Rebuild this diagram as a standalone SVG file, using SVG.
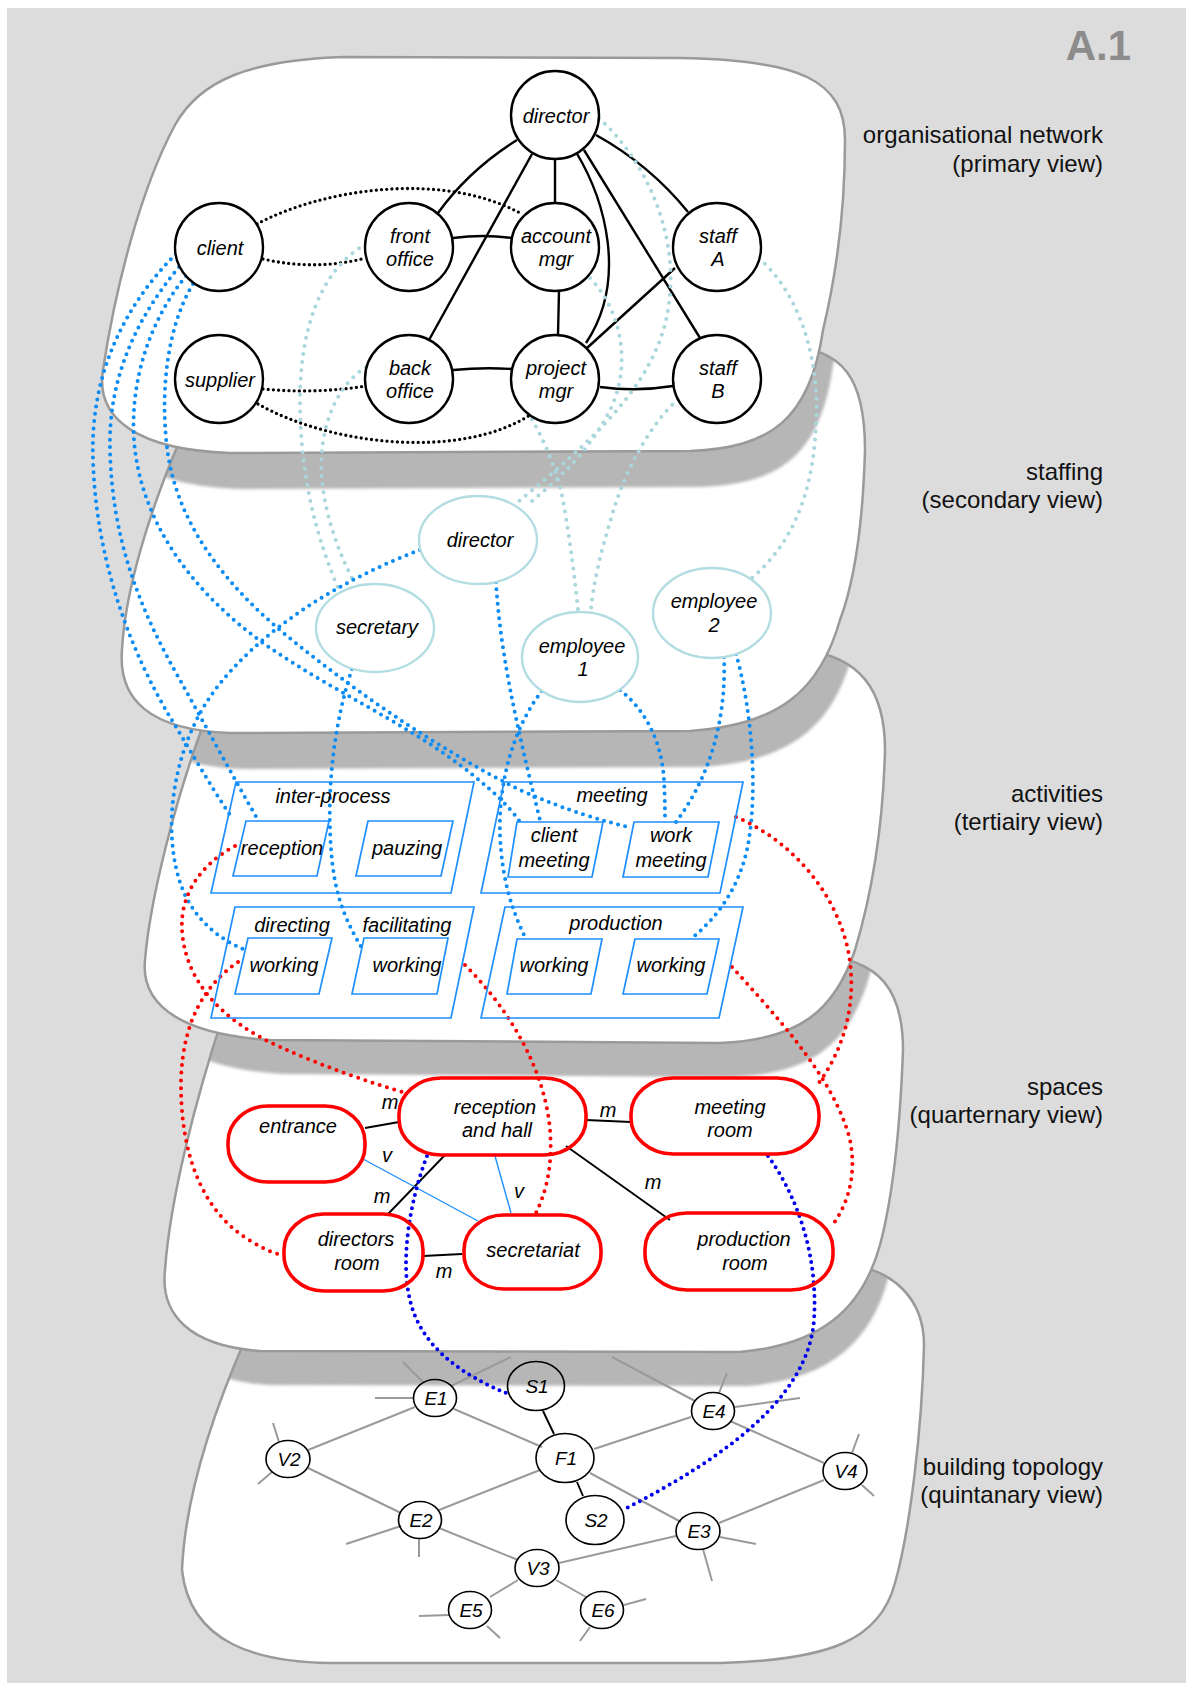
<svg xmlns="http://www.w3.org/2000/svg" xmlns:xlink="http://www.w3.org/1999/xlink" width="1186" height="1683" viewBox="0 0 1186 1683">
<style>
.lf{fill:#fff;stroke:none}
.ls{fill:none;stroke:#9a9a9a;stroke-width:2.5}
.sh{fill:#b6b6b6;stroke:none}
.n1{fill:#fff;stroke:#000;stroke-width:2.4}
.n2{fill:#fff;stroke:#b3dde1;stroke-width:2.4}
.n3{fill:none;stroke:#1e8fff;stroke-width:1.7}
.n4{fill:none;stroke:#f00;stroke-width:3.6}
.n5{fill:none;stroke:#000;stroke-width:1.6}
.t{font-family:'Liberation Sans',Arial,sans-serif;font-style:italic;font-size:20px;text-anchor:middle;fill:#000}
.t5{font-family:'Liberation Sans',Arial,sans-serif;font-style:italic;font-size:19px;text-anchor:middle;fill:#000}
.lab{font-family:'Liberation Sans',Arial,sans-serif;font-size:24px;text-anchor:end;fill:#111}
.e1{fill:none;stroke:#000;stroke-width:2.4}
.e4{fill:none;stroke:#000;stroke-width:1.9}
.ev{fill:none;stroke:#1e90ff;stroke-width:1.4}
.e5{fill:none;stroke:#9a9a9a;stroke-width:2}
.dk{fill:none;stroke:#000;stroke-width:3.3;stroke-linecap:round;stroke-dasharray:0 5.2}
.lb{fill:none;stroke:#a9d7dc;stroke-width:4;stroke-linecap:round;stroke-dasharray:0 8.2}
.bb{fill:none;stroke:#0a8cf5;stroke-width:4;stroke-linecap:round;stroke-dasharray:0 7.3}
.rd{fill:none;stroke:#f00;stroke-width:4;stroke-linecap:round;stroke-dasharray:0 7.6}
.db{fill:none;stroke:#0000f0;stroke-width:4;stroke-linecap:round;stroke-dasharray:0 6.8}
</style>
<defs>
<filter id="blur" x="-5%" y="-5%" width="110%" height="110%"><feGaussianBlur stdDeviation="1.6"/></filter>
<path id="L1p" d="M344,57 L680,58 C800,60 845,80 845,140 C845,220 835,280 823,330 C810,420 770,448 690,451 L230,453 C140,450 95,420 103,370 C115,290 140,190 175,125 C200,80 250,60 344,57 Z"/>
<path id="L2p" d="M250,345 L780,345 C845,347 865,380 865,450 C863,520 855,580 840,620 C820,690 780,725 690,731 L230,733 C150,730 118,700 122,650 C125,590 150,510 180,440 L200,375 C208,352 225,345 250,345 Z"/>
<path id="L3p" d="M260,650 L800,650 C860,655 885,690 885,750 C883,830 870,900 855,950 C835,1010 800,1040 720,1043 L270,1040 C190,1035 140,1010 145,960 C150,900 175,800 205,720 L222,672 C230,656 245,650 260,650 Z"/>
<path id="L4p" d="M300,950 L820,955 C880,960 903,990 903,1050 C900,1130 892,1200 880,1245 C862,1310 820,1345 740,1352 L260,1351 C190,1346 160,1315 165,1270 C170,1200 195,1100 225,1010 L238,972 C248,956 268,950 300,950 Z"/>
<path id="L5p" d="M320,1250 L840,1263 C895,1268 924,1300 924,1345 C922,1430 910,1530 895,1583 C880,1640 830,1660 720,1663 L330,1663 C260,1662 190,1645 182,1570 C185,1500 210,1420 245,1340 L262,1290 C272,1262 292,1250 320,1250 Z"/>
<clipPath id="c2"><use xlink:href="#L2p"/></clipPath>
<clipPath id="c3"><use xlink:href="#L3p"/></clipPath>
<clipPath id="c4"><use xlink:href="#L4p"/></clipPath>
<clipPath id="c5"><use xlink:href="#L5p"/></clipPath>
</defs>

<rect x="0" y="0" width="1186" height="1683" fill="#fff"/>
<rect x="7" y="8" width="1179" height="1675" fill="#dcdcdc"/>

<g id="layers">
<use xlink:href="#L5p" class="lf"/>
<g clip-path="url(#c5)"><use xlink:href="#L4p" class="sh" transform="translate(8,34)" filter="url(#blur)"/></g>
<use xlink:href="#L5p" class="ls"/>
<use xlink:href="#L4p" class="lf"/>
<g clip-path="url(#c4)"><use xlink:href="#L3p" class="sh" transform="translate(12,34)" filter="url(#blur)"/></g>
<use xlink:href="#L4p" class="ls"/>
<use xlink:href="#L3p" class="lf"/>
<g clip-path="url(#c3)"><use xlink:href="#L2p" class="sh" transform="translate(12,36)" filter="url(#blur)"/></g>
<use xlink:href="#L3p" class="ls"/>
<use xlink:href="#L2p" class="lf"/>
<g clip-path="url(#c2)"><use xlink:href="#L1p" class="sh" transform="translate(10,36)" filter="url(#blur)"/></g>
<use xlink:href="#L2p" class="ls"/>
<use xlink:href="#L1p" class="lf"/>
<use xlink:href="#L1p" class="ls"/>
</g>

<g id="titles">
<text x="1131" y="60" font-family="'Liberation Sans',Arial,sans-serif" font-weight="bold" font-size="42" fill="#8c8c8c" text-anchor="end">A.1</text>
<text class="lab" x="1103" y="143">organisational network</text>
<text class="lab" x="1103" y="172">(primary view)</text>
<text class="lab" x="1103" y="480">staffing</text>
<text class="lab" x="1103" y="508">(secondary view)</text>
<text class="lab" x="1103" y="802">activities</text>
<text class="lab" x="1103" y="830">(tertiairy view)</text>
<text class="lab" x="1103" y="1095">spaces</text>
<text class="lab" x="1103" y="1123">(quarternary view)</text>
<text class="lab" x="1103" y="1475">building topology</text>
<text class="lab" x="1103" y="1503">(quintanary view)</text>
</g>

<g id="connectors">
<path class="e5" d="M423,1382 L403,1362 M413,1398 L375,1398 M451,1386 L511,1357 M415,1407 L308,1450 M454,1409 L542,1447 M279,1442 L273,1423 M272,1472 L258,1484 M308,1468 L401,1513 M594,1449 L691,1417 M540,1470 L439,1510 M590,1473 L681,1522 M719,1393 L727,1373 M735,1407 L800,1398 M695,1401 L612,1357 M730,1421 L824,1463 M852,1453 L859,1434 M862,1485 L874,1496 M824,1480 L719,1523 M720,1537 L756,1544 M703,1549 L712,1581 M676,1536 L559,1563 M401,1526 L346,1544 M419,1538 L419,1557 M439,1528 L518,1560 M518,1580 L490,1597 M556,1580 L586,1597 M449,1615 L419,1616 M487,1626 L500,1638 M624,1605 L646,1599 M590,1627 L580,1641"/>
<path class="e4" d="M543,1411 L554,1434 M577,1482 L583,1496"/>
<path class="e1" d="M517,140 Q469,170 438,213"/>
<path class="e1" d="M532,154 L429,340"/>
<path class="e1" d="M555,159 L555,203"/>
<path class="e1" d="M576,152 C605,200 628,280 586,343"/>
<path class="e1" d="M596,135 Q650,165 688,212"/>
<path class="e1" d="M584,150 L700,338"/>
<path class="e1" d="M453,238 Q483,234 512,238"/>
<path class="e1" d="M559,291 L558,335"/>
<path class="e1" d="M453,370 Q483,367 512,369"/>
<path class="e1" d="M600,387 Q636,392 673,386"/>
<path class="e1" d="M587,348 L675,268"/>
<path class="dk" d="M257,224 C320,190 440,170 520,213"/>
<path class="dk" d="M263,259 Q315,271 366,258"/>
<path class="dk" d="M263,389 Q315,394 366,386"/>
<path class="dk" d="M258,404 C330,445 460,460 530,415"/>
<path class="lb" d="M599,118 C650,165 680,240 668,310 C655,390 580,450 518,502"/>
<path class="lb" d="M590,278 C625,315 630,370 610,410 C590,450 560,478 526,506"/>
<path class="lb" d="M366,244 C320,270 300,330 300,400 C300,480 318,540 338,588"/>
<path class="lb" d="M366,367 C330,390 318,440 322,480 C326,520 340,555 355,584"/>
<path class="lb" d="M514,392 C535,420 555,460 563,500 C570,540 575,580 578,610"/>
<path class="lb" d="M678,399 C650,425 625,470 612,515 C600,555 593,585 591,610"/>
<path class="lb" d="M759,258 C805,300 822,370 815,440 C810,500 790,545 752,578"/>
<path class="bb" d="M176,254 C120,310 90,380 93,460 C96,560 130,650 170,717 C190,750 210,785 230,815"/>
<path class="bb" d="M179,267 C135,320 108,380 110,450 C112,540 140,610 180,680 C205,725 235,780 258,820"/>
<path class="bb" d="M186,276 C150,320 130,380 134,440 C140,520 190,590 263,643 C330,690 400,720 460,765 C490,788 508,805 520,822"/>
<path class="bb" d="M193,284 C165,330 160,400 168,455 C180,530 230,590 292,640 C360,695 440,750 520,790 C570,812 600,820 632,828"/>
<path class="bb" d="M420,550 C340,580 260,630 215,690 C170,750 160,840 185,895 C200,925 222,940 245,950"/>
<path class="bb" d="M352,669 C335,720 325,790 332,860 C336,900 348,925 362,948"/>
<path class="bb" d="M496,582 C500,650 515,720 540,820"/>
<path class="bb" d="M542,691 C515,725 498,780 500,835 C502,880 512,910 525,937"/>
<path class="bb" d="M620,690 C648,712 662,745 664,780 C665,800 665,812 665,822"/>
<path class="bb" d="M724,657 C726,710 715,770 676,822"/>
<path class="bb" d="M736,654 C752,710 758,790 748,845 C740,885 720,915 692,938"/>
<path class="rd" d="M235,846 C200,865 180,895 182,930 C185,980 220,1020 280,1047 C320,1065 370,1083 406,1093"/>
<path class="rd" d="M238,962 C205,985 183,1020 181,1080 C180,1150 200,1210 249,1240 C260,1247 270,1252 281,1255"/>
<path class="rd" d="M465,965 C510,1010 545,1070 550,1130 C553,1170 545,1195 534,1217"/>
<path class="rd" d="M736,817 C790,840 835,890 848,950 C858,1000 845,1050 815,1088"/>
<path class="rd" d="M732,967 C780,1020 835,1080 850,1140 C857,1175 848,1205 831,1227"/>
<path class="e4" d="M365,1128 L399,1122 M586,1120 L631,1122 M566,1146 L670,1220 M445,1155 L388,1214 M423,1256 L462,1254"/>
<path class="ev" d="M363,1159 L478,1221 M495,1156 L511,1213"/>
<text class="t" x="390" y="1109">m</text>
<text class="t" x="387" y="1162">v</text>
<text class="t" x="382" y="1203">m</text>
<text class="t" x="519" y="1198">v</text>
<text class="t" x="444" y="1278">m</text>
<text class="t" x="608" y="1117">m</text>
<text class="t" x="653" y="1189">m</text>
<path class="db" d="M427,1156 C410,1200 400,1260 410,1300 C420,1345 460,1375 511,1395"/>
<path class="db" d="M768,1156 C800,1200 818,1260 814,1320 C808,1400 720,1460 623,1510"/>
</g>

<g id="nodes">
<g id="n-director"><circle class="n1" cx="555" cy="115" r="44"/><text class="t" x="556" y="123">director</text></g>
<g id="n-client"><circle class="n1" cx="219" cy="247" r="44"/><text class="t" x="220" y="255">client</text></g>
<g id="n-front-office"><circle class="n1" cx="409" cy="247" r="44"/><text class="t" x="410" y="243">front</text><text class="t" x="410" y="266">office</text></g>
<g id="n-account-mgr"><circle class="n1" cx="555" cy="247" r="44"/><text class="t" x="556" y="243">account</text><text class="t" x="556" y="266">mgr</text></g>
<g id="n-staff-a"><circle class="n1" cx="717" cy="247" r="44"/><text class="t" x="718" y="243">staff</text><text class="t" x="718" y="266">A</text></g>
<g id="n-supplier"><circle class="n1" cx="219" cy="379" r="44"/><text class="t" x="220" y="387">supplier</text></g>
<g id="n-back-office"><circle class="n1" cx="409" cy="379" r="44"/><text class="t" x="410" y="375">back</text><text class="t" x="410" y="398">office</text></g>
<g id="n-project-mgr"><circle class="n1" cx="555" cy="379" r="44"/><text class="t" x="556" y="375">project</text><text class="t" x="556" y="398">mgr</text></g>
<g id="n-staff-b"><circle class="n1" cx="717" cy="379" r="44"/><text class="t" x="718" y="375">staff</text><text class="t" x="718" y="398">B</text></g>

<g id="s-director"><ellipse class="n2" cx="478" cy="540" rx="59" ry="44"/><text class="t" x="480" y="547">director</text></g>
<g id="s-secretary"><ellipse class="n2" cx="375" cy="628" rx="59" ry="44"/><text class="t" x="377" y="634">secretary</text></g>
<g id="s-employee1"><ellipse class="n2" cx="580" cy="657" rx="58" ry="45"/><text class="t" x="582" y="653">employee</text><text class="t" x="583" y="676">1</text></g>
<g id="s-employee2"><ellipse class="n2" cx="712" cy="613" rx="59" ry="45"/><text class="t" x="714" y="608">employee</text><text class="t" x="714" y="632">2</text></g>

<g id="a-inter-process"><polygon class="n3" points="236,782 474,782 451,893 211,893"/><text class="t" x="333" y="803">inter-process</text></g>
<g id="a-reception"><polygon class="n3" points="246,821 329,821 317,876 233,876"/><text class="t" x="282" y="855">reception</text></g>
<g id="a-pauzing"><polygon class="n3" points="368,821 453,821 441,876 356,876"/><text class="t" x="407" y="855">pauzing</text></g>
<g id="a-directing-facilitating"><polygon class="n3" points="235,907 474,907 451,1018 211,1018"/><text class="t" x="292" y="932">directing</text><text class="t" x="407" y="932">facilitating</text></g>
<g id="a-working1"><polygon class="n3" points="248,938 332,938 319,994 235,994"/><text class="t" x="284" y="972">working</text></g>
<g id="a-working2"><polygon class="n3" points="364,938 448,938 437,994 352,994"/><text class="t" x="407" y="972">working</text></g>
<g id="a-meeting"><polygon class="n3" points="504,782 743,782 720,893 481,893"/><text class="t" x="612" y="802">meeting</text></g>
<g id="a-client-meeting"><polygon class="n3" points="517,822 603,822 592,877 508,877"/><text class="t" x="554" y="842">client</text><text class="t" x="554" y="867">meeting</text></g>
<g id="a-work-meeting"><polygon class="n3" points="634,822 719,822 708,877 623,877"/><text class="t" x="671" y="842">work</text><text class="t" x="671" y="867">meeting</text></g>
<g id="a-production"><polygon class="n3" points="505,907 743,907 719,1018 481,1018"/><text class="t" x="616" y="930">production</text></g>
<g id="a-working3"><polygon class="n3" points="517,939 602,939 591,994 507,994"/><text class="t" x="554" y="972">working</text></g>
<g id="a-working4"><polygon class="n3" points="635,939 719,939 707,994 623,994"/><text class="t" x="671" y="972">working</text></g>

<g id="r-entrance"><rect class="n4" x="228" y="1106" width="137" height="76" rx="40" ry="36"/><text class="t" x="298" y="1133">entrance</text></g>
<g id="r-reception-hall"><rect class="n4" x="399" y="1078" width="187" height="77" rx="42" ry="36"/><text class="t" x="495" y="1114">reception</text><text class="t" x="497" y="1137">and hall</text></g>
<g id="r-meeting-room"><rect class="n4" x="631" y="1078" width="188" height="76" rx="42" ry="36"/><text class="t" x="730" y="1114">meeting</text><text class="t" x="730" y="1137">room</text></g>
<g id="r-directors-room"><rect class="n4" x="284" y="1214" width="139" height="77" rx="40" ry="36"/><text class="t" x="356" y="1246">directors</text><text class="t" x="357" y="1270">room</text></g>
<g id="r-secretariat"><rect class="n4" x="464" y="1215" width="137" height="74" rx="40" ry="35"/><text class="t" x="533" y="1257">secretariat</text></g>
<g id="r-production-room"><rect class="n4" x="645" y="1213" width="188" height="77" rx="42" ry="36"/><text class="t" x="744" y="1246">production</text><text class="t" x="745" y="1270">room</text></g>

<g id="b-S1"><ellipse class="n5" cx="536" cy="1386" rx="28.5" ry="24.5"/><text class="t5" x="537" y="1393">S1</text></g>
<g id="b-E1"><ellipse class="n5" cx="435" cy="1398" rx="21.5" ry="18.5"/><text class="t5" x="436" y="1405">E1</text></g>
<g id="b-E4"><ellipse class="n5" cx="713" cy="1411" rx="21.5" ry="18.5"/><text class="t5" x="714" y="1418">E4</text></g>
<g id="b-V2"><ellipse class="n5" cx="288" cy="1459" rx="22" ry="18.5"/><text class="t5" x="289" y="1466">V2</text></g>
<g id="b-F1"><ellipse class="n5" cx="565" cy="1458" rx="29" ry="24.5"/><text class="t5" x="566" y="1465">F1</text></g>
<g id="b-V4"><ellipse class="n5" cx="845" cy="1471" rx="22" ry="18.5"/><text class="t5" x="846" y="1478">V4</text></g>
<g id="b-E2"><ellipse class="n5" cx="420" cy="1520" rx="21.5" ry="18.5"/><text class="t5" x="421" y="1527">E2</text></g>
<g id="b-S2"><ellipse class="n5" cx="595" cy="1520" rx="29" ry="24.5"/><text class="t5" x="596" y="1527">S2</text></g>
<g id="b-E3"><ellipse class="n5" cx="698" cy="1531" rx="22" ry="18.5"/><text class="t5" x="699" y="1538">E3</text></g>
<g id="b-V3"><ellipse class="n5" cx="537" cy="1568" rx="22" ry="18.5"/><text class="t5" x="538" y="1575">V3</text></g>
<g id="b-E5"><ellipse class="n5" cx="470" cy="1610" rx="21.5" ry="18.5"/><text class="t5" x="471" y="1617">E5</text></g>
<g id="b-E6"><ellipse class="n5" cx="602" cy="1610" rx="21.5" ry="18.5"/><text class="t5" x="603" y="1617">E6</text></g>
</g>
</svg>
